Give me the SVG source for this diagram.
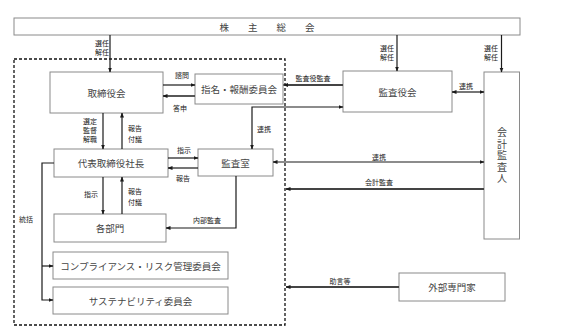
<svg xmlns="http://www.w3.org/2000/svg" width="567" height="329" viewBox="0 0 567 329">
<defs>
<marker id="ah" viewBox="0 0 10 10" refX="9" refY="5" markerWidth="5" markerHeight="5" orient="auto-start-reverse" markerUnits="userSpaceOnUse">
<path d="M0,1 L10,5 L0,9 z" fill="#1a1a1a"/>
</marker>
</defs>
<style>
.box{fill:#fff;stroke:#8a8a8a;stroke-width:1}
.bt{font-family:"Noto Sans CJK JP","Liberation Sans",sans-serif;font-size:9.5px;fill:#444;text-anchor:middle;dominant-baseline:central}
.lb{font-family:"Noto Sans CJK JP","Liberation Sans",sans-serif;font-size:7px;fill:#222;text-anchor:middle;dominant-baseline:central}
.cn{fill:none;stroke:#1a1a1a;stroke-width:1.2}
.cn2{fill:none;stroke:#444;stroke-width:1.8}
.ar{marker-end:url(#ah)}
.ab{marker-start:url(#ah);marker-end:url(#ah)}
</style>
<rect width="567" height="329" fill="#fff"/>
<rect x="14" y="59" width="271" height="266" fill="none" stroke="#111" stroke-width="1.3" stroke-dasharray="3,2"/>
<g id="kabunushi"><rect class="box" x="14" y="18" width="506" height="17"/><text class="bt" x="267" y="27" xml:space="preserve">株　　主　　総　　会</text></g>
<g id="torishimariyakukai"><rect class="box" x="50" y="72" width="113" height="41"/><text class="bt" x="106.5" y="93">取締役会</text></g>
<g id="shimei"><rect class="box" x="195" y="74" width="88" height="30"/><text class="bt" x="239" y="89">指名・報酬委員会</text></g>
<g id="kansayakukai"><rect class="box" x="343" y="71" width="109" height="41"/><text class="bt" x="397.5" y="92">監査役会</text></g>
<g id="kaikeikansanin"><rect class="box" x="484" y="72" width="35.5" height="167"/>
<text x="502" y="156" font-family="'Noto Sans CJK JP','Liberation Sans',sans-serif" font-size="10" fill="#444" text-anchor="middle" writing-mode="vertical-rl" letter-spacing="1.5">会計監査人</text></g>
<g id="shacho"><rect class="box" x="54" y="149" width="114" height="28"/><text class="bt" x="111" y="163">代表取締役社長</text></g>
<g id="kansashitsu"><rect class="box" x="198" y="149" width="75" height="27"/><text class="bt" x="235.5" y="162.5">監査室</text></g>
<g id="kakubumon"><rect class="box" x="54" y="214" width="112" height="28"/><text class="bt" x="110" y="228">各部門</text></g>
<g id="compliance"><rect class="box" x="53" y="252" width="175" height="27"/><text class="bt" x="140.5" y="265.5">コンプライアンス・リスク管理委員会</text></g>
<g id="sustainability"><rect class="box" x="53" y="287" width="175" height="27"/><text class="bt" x="140.5" y="300.5">サステナビリティ委員会</text></g>
<g id="gaibu"><rect class="box" x="399" y="273" width="106" height="28"/><text class="bt" x="452" y="287">外部専門家</text></g>
<g id="connectors">
<line class="cn ar" x1="110" y1="35" x2="110" y2="72"/>
<line class="cn ar" x1="397" y1="35" x2="397" y2="71"/>
<line class="cn ar" x1="501.5" y1="35" x2="501.5" y2="72"/>
<line class="cn ar" x1="163" y1="85" x2="195" y2="85"/>
<line class="cn2 ar" x1="195" y1="96" x2="163" y2="96"/>
<line class="cn2 ar" x1="343" y1="85" x2="283.5" y2="85"/>
<path class="cn ab" d="M343 107 H252 V149"/>
<line class="cn ab" x1="452" y1="92" x2="484" y2="92"/>
<line class="cn ar" x1="103" y1="113" x2="103" y2="149"/>
<line class="cn ar" x1="122" y1="149" x2="122" y2="113"/>
<line class="cn ar" x1="168" y1="158" x2="198" y2="158"/>
<line class="cn ar" x1="198" y1="168" x2="168" y2="168"/>
<line class="cn ab" x1="273" y1="162" x2="484" y2="162"/>
<line class="cn2 ar" x1="484" y1="189" x2="286" y2="189"/>
<line class="cn ar" x1="103" y1="177" x2="103" y2="214"/>
<line class="cn ar" x1="122" y1="214" x2="122" y2="177"/>
<path class="cn ar" d="M236 176 V228 H166"/>
<path class="cn ar" d="M54 163 H42 V300 H53"/>
<path class="cn ar" d="M42 266 H53"/>
<line class="cn2 ar" x1="399" y1="287" x2="286" y2="287"/>
</g>
<g id="labels">
<text class="lb" x="102" y="43">選任</text><text class="lb" x="102" y="52">解任</text>
<text class="lb" x="387" y="48">選任</text><text class="lb" x="387" y="57">解任</text>
<text class="lb" x="491" y="48">選任</text><text class="lb" x="491" y="57">解任</text>
<text class="lb" x="182" y="75">諮問</text>
<text class="lb" x="180" y="108">答申</text>
<text class="lb" x="313" y="78">監査役監査</text>
<text class="lb" x="264" y="129">連携</text>
<text class="lb" x="466" y="86">連携</text>
<text class="lb" x="90" y="121">選定</text><text class="lb" x="90" y="130">監督</text><text class="lb" x="90" y="139">解職</text>
<text class="lb" x="135" y="128">報告</text><text class="lb" x="135" y="139">付議</text>
<text class="lb" x="184" y="150">指示</text>
<text class="lb" x="183" y="178">報告</text>
<text class="lb" x="379" y="157">連携</text>
<text class="lb" x="379" y="182">会計監査</text>
<text class="lb" x="91" y="194">指示</text>
<text class="lb" x="135" y="191">報告</text><text class="lb" x="135" y="202">付議</text>
<text class="lb" x="26" y="219">統括</text>
<text class="lb" x="207" y="220">内部監査</text>
<text class="lb" x="340" y="281">助言等</text>
</g>
</svg>
